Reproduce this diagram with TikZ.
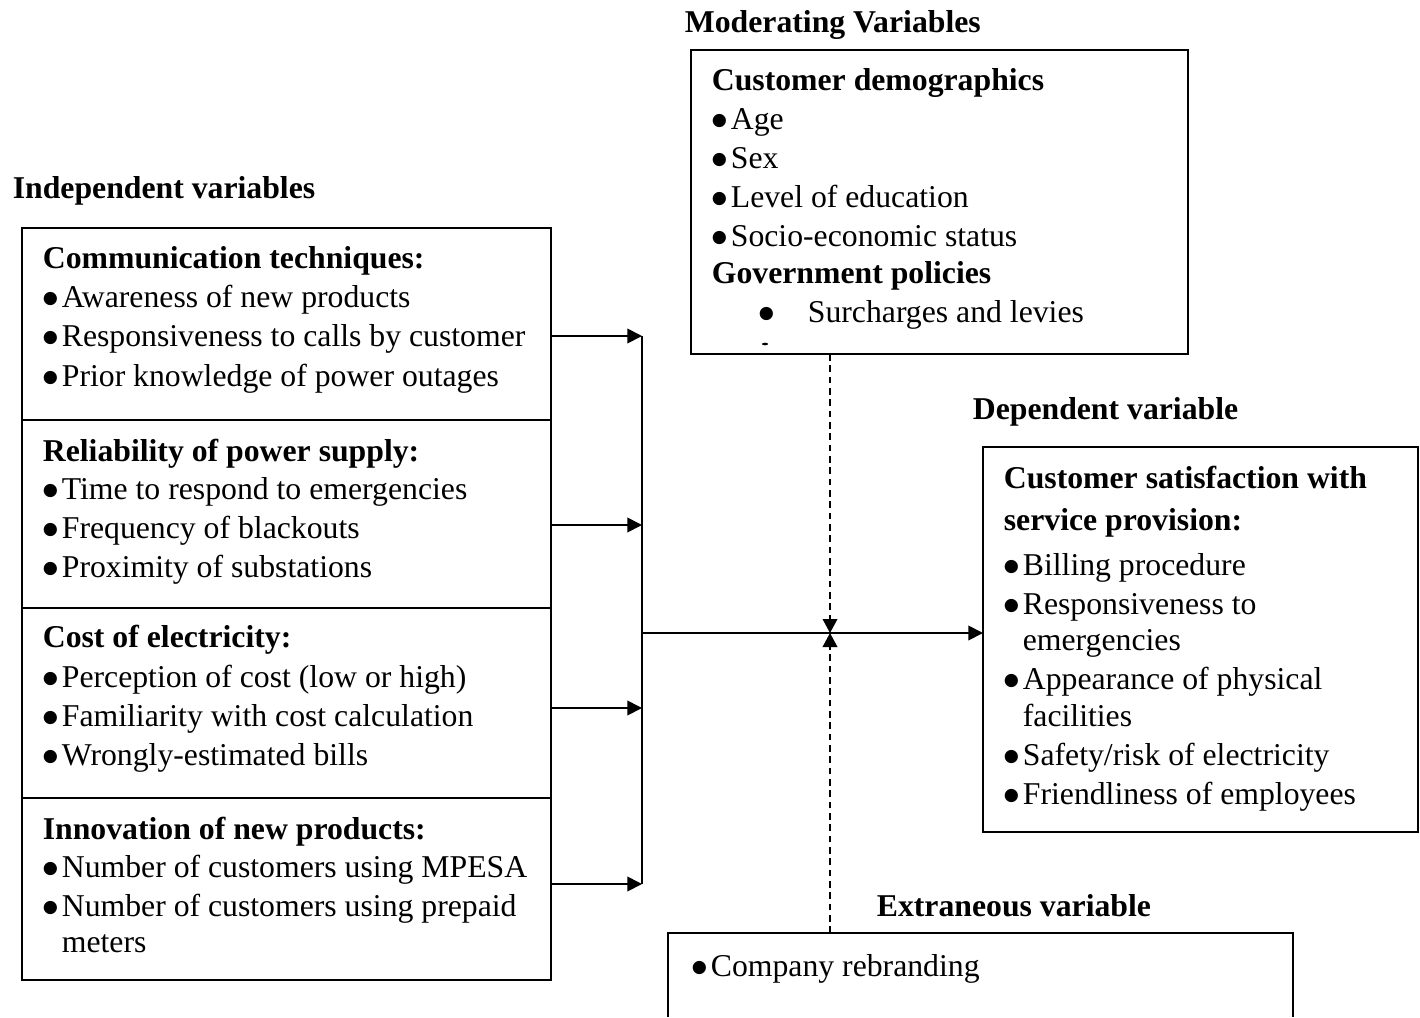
\documentclass[tikz,border=0pt]{standalone}
\usepackage{fontspec}
\setmainfont{Liberation Serif}
\newfontfamily\symfont{DejaVu Sans}
\usetikzlibrary{arrows.meta}
\tikzset{every picture/.style={line width=1.3pt}}
\newcommand{\dotb}{\raisebox{3.4pt}{\symfont\fontsize{13}{13}\selectfont ●}}
\newcommand{\bul}[1]{\makebox[14.25pt][l]{\dotb}#1}

\begin{document}
\begin{tikzpicture}[x=0.75pt,y=0.75pt,yscale=-1,xscale=1,
  box/.style={draw, inner sep=0pt, outer sep=0pt},
  txt/.style={anchor=west, inner sep=0pt, text height=15.8pt, text depth=0pt, font=\fontsize{23.8}{28}\selectfont},
  hd/.style={txt, font=\fontsize{23.8}{28}\selectfont\bfseries},
  arr/.style={-{Triangle[length=11pt,width=11pt]}},
  dsh/.style={dash pattern=on 5pt off 3.5pt, line width=1.1pt}]
\useasboundingbox (0,0) rectangle (1420,1017);

%Shape: Rectangle [independent]
\node[box, minimum width=396.75pt, minimum height=144pt] (comm) at (286.5,324) {};
\node[box, minimum width=396.75pt, minimum height=141pt] (rel) at (286.5,514) {};
\node[box, minimum width=396.75pt, minimum height=142.5pt] (cost) at (286.5,703) {};
\node[box, minimum width=396.75pt, minimum height=136.5pt] (inno) at (286.5,889) {};
%Shape: Rectangle [moderating]
\node[box, minimum width=372.75pt, minimum height=228pt] (mod) at (939.5,202) {};
%Shape: Rectangle [dependent]
\node[box, minimum width=326.25pt, minimum height=288.75pt] (dep) at (1200.5,639.5) {};
%Shape: Open Rectangle [extraneous]
\draw (668,1017) -- (668,933) coordinate (ext) -- (1293,933) -- (1293,1017) ;

%Straight Lines [bus]
\coordinate (b1) at (642,336);
\coordinate (b2) at (642,525);
\coordinate (b3) at (642,708);
\coordinate (b4) at (642,884);
\coordinate (mid) at (642,633);
\coordinate (meet) at (830,633);
\draw (b1) -- (b4) ;
\draw[arr] (comm.east |- b1) -- (b1) ;
\draw[arr] (rel.east |- b2) -- (b2) ;
\draw[arr] (cost.east |- b3) -- (b3) ;
\draw[arr] (inno.east |- b4) -- (b4) ;
\draw[arr] (mid) -- (dep.west |- mid) ;
%Dashed Lines
\draw[dsh, -{Triangle[length=10.5pt,width=11pt]}] (mod.south -| meet) -- (meet) ;
\draw[dsh, -{Triangle[length=10.5pt,width=11pt]}] (ext -| meet) -- (meet) ;

% Text Node
\node[hd] (indt) at (12,188) {Independent variables};
\node[hd] (modt) at (684,22) {Moderating Variables};
\node[hd] (dept) at (972,409) {Dependent variable};
\node[hd] (extt) at (876,906) {Extraneous variable};

% Text Node
\node[hd] (c0) at (42,258) {Communication techniques:};
\node[txt] (c1) at (42,297) {\bul{Awareness of new products}};
\node[txt] (c2) at (42,336) {\bul{Responsiveness to calls by customer}};
\node[txt] (c3) at (42,376) {\bul{Prior knowledge of power outages}};
% Text Node
\node[hd] (r0) at (42,451) {Reliability of power supply:};
\node[txt] (r1) at (42,489) {\bul{Time to respond to emergencies}};
\node[txt] (r2) at (42,528) {\bul{Frequency of blackouts}};
\node[txt] (r3) at (42,567) {\bul{Proximity of substations}};
% Text Node
\node[hd] (k0) at (42,637) {Cost of electricity:};
\node[txt] (k1) at (42,677) {\bul{Perception of cost (low or high)}};
\node[txt] (k2) at (42,716) {\bul{Familiarity with cost calculation}};
\node[txt] (k3) at (42,755) {\bul{Wrongly-estimated bills}};
% Text Node
\node[hd] (n0) at (42,829) {Innovation of new products:};
\node[txt] (n1) at (42,867) {\bul{Number of customers using MPESA}};
\node[txt] (n2) at (42,906) {\bul{Number of customers using prepaid}};
\node[txt] (n3) at (61,942) {meters};

% Text Node
\node[hd] (m0) at (711,80) {Customer demographics};
\node[txt] (m1) at (711,119) {\bul{Age}};
\node[txt] (m2) at (711,158) {\bul{Sex}};
\node[txt] (m3) at (711,197) {\bul{Level of education}};
\node[txt] (m4) at (711,236) {\bul{Socio-economic status}};
\node[hd] (g0) at (711,273) {Government policies};
\node[txt] (gb) at (758,312) {\dotb};
\node[txt] (g1) at (807,312) {Surcharges and levies};
\fill (765,344) ellipse (3 and 1.3) ;

% Text Node
\node[hd] (d0) at (1003,478) {Customer satisfaction with};
\node[hd] (d1) at (1003,520) {service provision:};
\node[txt] (d2) at (1003,565) {\bul{Billing procedure}};
\node[txt] (d3) at (1003,604) {\bul{Responsiveness to}};
\node[txt] (d4) at (1022,640) {emergencies};
\node[txt] (d5) at (1003,679) {\bul{Appearance of physical}};
\node[txt] (d6) at (1022,716) {facilities};
\node[txt] (d7) at (1003,755) {\bul{Safety/risk of electricity}};
\node[txt] (d8) at (1003,794) {\bul{Friendliness of employees}};

% Text Node
\node[txt] (e1) at (691,966) {\bul{Company rebranding}};

\end{tikzpicture}
\end{document}
